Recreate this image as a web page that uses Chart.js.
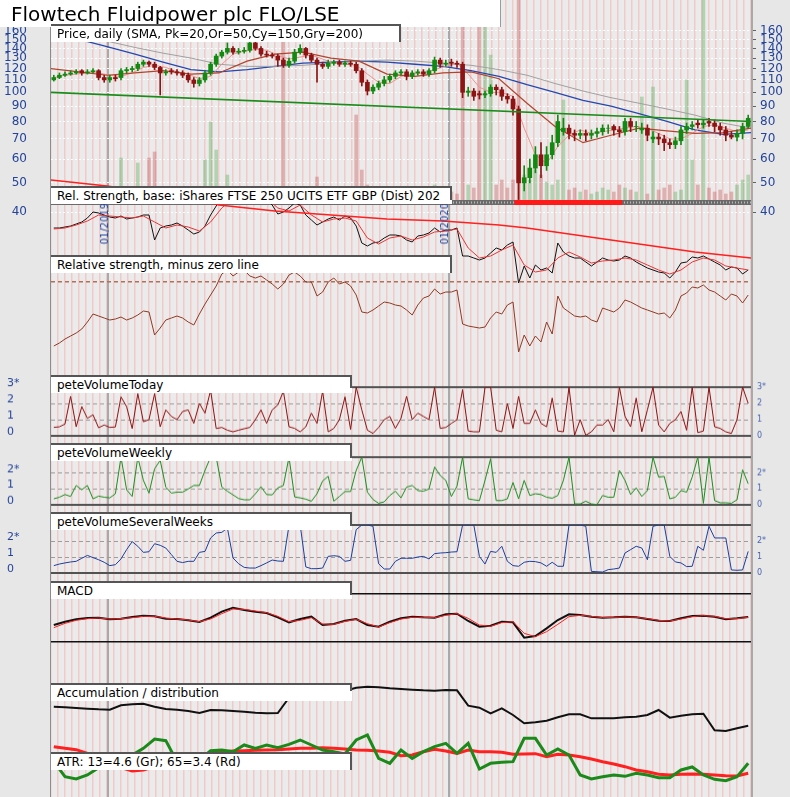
<!DOCTYPE html>
<html>
<head>
<meta charset="utf-8">
<title>Flowtech Fluidpower plc FLO/LSE</title>
<script src="https://cdn.jsdelivr.net/npm/chart.js@4.4.1/dist/chart.umd.min.js"></script>
<style>
html, body { margin: 0; padding: 0; }
body { position: relative; width: 790px; height: 797px; overflow: hidden; background: #e7e7e7; font-family: "DejaVu Sans", Verdana, sans-serif; }
canvas { position: absolute; left: 0; }
.title { position: absolute; left: 0; top: 0; width: 500px; height: 27px; background: #fff; border-right: 1px solid #9a9a9a; }
.title span { position: absolute; left: 11px; top: 4px; font-size: 20px; line-height: 20px; color: #000; white-space: nowrap; }
.box { position: absolute; left: 51px; height: 18px; background: #fff; border-top: 2px solid #555; font-size: 12px; line-height: 16px; padding-left: 6px; box-sizing: border-box; white-space: nowrap; overflow: hidden; color: #000; }
.box i { position: absolute; right: 0; top: 0; width: 2px; background: #555; }
.edge { position: absolute; bottom: 0; }
.year { position: absolute; top: 203px; font-size: 10px; line-height: 12px; color: #23449a; writing-mode: vertical-rl; transform: rotate(180deg); }
</style>
</head>
<body>
<div id="charts"></div>
<div class="edge" style="left:50px;top:24px;width:1px;background:#8c8c8c"></div>
<div class="edge" style="left:751px;top:0;width:2px;background:#a9a9a9"></div>
<div class="year" style="left:99px">01/2019</div>
<div class="year" style="left:439px">01/2020</div>
<div class="title"><span>Flowtech Fluidpower plc FLO/LSE</span></div>
<div class="box" style="top:24px;width:350px">Price, daily (SMA, Pk=20,Or=50,Cy=150,Gry=200)<i style="height:17px"></i></div>
<div class="box" style="top:186px;width:401px">Rel. Strength, base: iShares FTSE 250 UCITS ETF GBP (Dist) 202<i style="height:12px"></i></div>
<div class="box" style="top:255px;width:401px">Relative strength, minus zero line<i style="height:16px"></i></div>
<div class="box" style="top:375px;width:301px">peteVolumeToday<i style="height:11px"></i></div>
<div class="box" style="top:443px;width:301px">peteVolumeWeekly<i style="height:13px"></i></div>
<div class="box" style="top:512px;width:301px">peteVolumeSeveralWeeks<i style="height:12px"></i></div>
<div class="box" style="top:581px;width:301px">MACD<i style="height:12px"></i></div>
<div class="box" style="top:683px;width:301px">Accumulation / distribution<i style="height:6px"></i></div>
<div class="box" style="top:752px;width:301px">ATR: 13=4.6 (Gr); 65=3.4 (Rd)<i style="height:16px"></i></div>

<script>
// ---- data (x axis = trading days, 0..500) ----
const days = 500;
const yearStarts = [41, 284];
const priceTicks = [160, 150, 140, 130, 120, 110, 100, 90, 80, 70, 60, 50, 40];

// candles, one every 4 trading days
const opens = [
  110,112,114,115,116,118,116,117,118,112, 110,112,112,118,119,120,124,126,124,121,
  116,118,117,116,114,110,107,110,116,124, 132,136,140,136,137,138,146,140,134,133,
  132,128,123,127,136,140,133,128,124,122, 125,126,124,125,124,118,108,101,104,107,
  110,113,116,117,113,116,117,115,118,128, 124,126,125,124,100,101,99,98,99,104,
  102,97,95,88,50,52,56,62,57,62, 68,74,76,73,72,73,72,73,74,76,
  77,75,74,80,77,75,76,70,71,70, 68,67,69,75,77,79,78,80,79,77,
  75,72,71,73,77];
const highs = [
  114,116,117,118,119,119,119,120,119,114, 114,114,120,121,122,126,128,127,126,122,
  119,120,119,118,116,112,112,118,126,134, 138,146,142,140,141,149,147,142,137,135,
  134,130,130,139,144,141,135,130,126,128, 128,128,127,127,126,120,110,106,109,113,
  115,118,119,119,118,119,119,120,131,130, 128,129,127,126,104,103,101,101,106,106,
  104,99,97,90,57,60,66,68,66,72, 84,82,78,75,75,75,75,76,78,78,
  78,77,82,82,80,79,78,74,73,72, 70,71,77,79,80,81,81,82,81,79,
  77,74,75,79,84];
const lows = [
  109,111,113,114,115,114,115,116,110,108, 108,109,110,116,117,118,122,122,119,98,
  114,115,114,112,108,104,105,108,114,122, 130,134,134,134,135,136,138,132,131,130,
  122,121,121,125,134,130,126,108,120,120, 123,122,122,122,116,105,98,99,102,105,
  108,111,114,110,111,114,113,113,116,121, 122,122,121,96,97,94,95,96,97,98,
  94,92,84,44,47,50,54,52,55,60, 66,72,70,69,70,69,70,71,72,73,
  72,71,72,74,74,73,69,68,67,64, 65,65,67,73,75,76,76,77,74,72,
  69,70,69,70,76];
const closes = [
  112,114,115,116,117,116,117,118,112,110, 112,111,118,119,120,124,126,124,121,116,
  117,117,116,114,110,107,110,116,124,132, 136,140,136,137,138,146,140,134,133,132,
  128,123,127,136,140,133,128,124,122,125, 126,124,125,124,118,108,101,104,107,110,
  113,116,117,113,116,117,115,118,128,124, 125,125,124,100,101,97,98,99,104,102,
  97,95,88,50,52,56,62,57,62,68, 80,76,73,72,73,72,73,74,76,76,
  75,74,80,77,77,76,72,71,70,68, 67,69,75,77,78,78,79,79,77,75,
  72,71,73,77,82];
const volumes = [
  5,4,6,3,4,5,3,4,6,5, 8,4,42,6,5,37,6,42,48,10,
  5,4,6,12,5,6,8,40,78,50, 8,25,10,5,4,6,5,3,4,6,
  5,200,5,4,6,5,6,23,8,5, 6,4,10,12,85,30,15,8,6,10,
  8,6,5,8,6,10,8,12,15,6, 10,8,6,200,15,12,200,200,145,15,
  20,12,20,200,25,20,30,25,18,15, 20,100,10,12,8,10,6,8,12,10,
  8,15,12,10,8,103,6,113,10,12, 15,8,10,120,40,15,200,12,8,10,
  6,8,15,20,25];

// moving averages (sma20 every 8 days, the others every 20 days)
const sma20 = [
  112,114,115,116,116,114,113,116,121,123, 121,117,115,111,113,124,134,137,139,138,
  133,129,131,133,129,125,124,123,115,108, 107,113,115,116,119,122,125,115,104,100,
  100,97,76,62,58,66,72,75,73,74, 75,76,77,76,73,70,70,73,77,78,
  76,74,75];
const sma50 = [120,117,114,116,118,115,116,127,134,136,130,127,115,113,116,117,111,92,77,68,72,76,74.5,73,73.5,76];
const sma150 = [159,150,142,134,126,119,117,119,122,125,126,127,126,124,122,118,113,106,100,94,90,85,80,75,72.5,73.5];
const sma200 = [163,157,148,141,135,130,124,122,122,123,125,127,128,127,125,123,119,114,107,101,96,92,88,84,79,76];
const trendDays = [0, 500];
const trendValues = [100, 80];
const redBandDays = [331, 408];

// relative strength vs FTSE 250 (index units)
const rs = [
  72,72,73,74,76,78,82,88,87,85, 83,82,84,81,82,83,85,85,60,72,
  74,75,77,74,70,66,68,74,85,94, 102,105,104,106,108,110,104,102,100,95,
  86,88,92,97,95,85,80,75,78,81, 83,80,84,82,74,57,54,57,58,62,
  65,65,64,60,58,64,65,67,72,68, 70,70,72,44,44,42,40,42,47,52,
  50,55,58,17,34,22,35,30,32,27, 57,48,44,42,42,38,34,38,42,40,
  39,40,44,42,38,35,32,30,28,27, 22,28,37,38,43,42,44,41,38,35,
  30,33,32,26,30];
const rsAvg = [
  71,72,75,79,85,84,83,82,84,78, 72,75,73,69,78,92,102,106,107,102,
  92,89,95,85,78,81,82,79,62,56, 62,64,60,63,68,69,71,52,42,44,
  50,55,35,28,30,42,48,43,37,39, 40,42,40,35,30,26,30,38,42,40,
  34,32,30];
const rsLong = [120,117,114,110,106,102,95,92,89,87,85,83,81,80,79,77,75,72,68,64,60,56,52,48,45,42];
const rsMinusZero = [
  -64,-61,-57,-54,-51,-47,-40,-32,-34,-36, -38,-37,-35,-38,-36,-33,-29,-30,-53,-46,
  -38,-36,-34,-36,-40,-43,-32,-22,-13,-4, 8,12,6,10,12,6,4,6,2,-2,
  -7,-2,7,10,6,0,0,-14,-10,0, 4,-2,0,-4,-13,-30,-31,-28,-24,-20,
  -21,-23,-24,-28,-33,-23,-16,-14,-7,-12, -10,-10,-8,-42,-44,-45,-46,-45,-36,-30,
  -32,-23,-20,-70,-53,-64,-54,-60,-40,-52, -14,-26,-30,-34,-35,-34,-38,-40,-26,-28,
  -30,-26,-18,-20,-23,-26,-28,-30,-32,-31, -36,-28,-14,-11,-5,-6,-3,-8,-10,-14,
  -18,-12,-14,-21,-13];

// pete volume indicators (clipped at 3)
const peteToday = [
  0.52,0.56,0.73,2.44,0.56,1.8,1.08,1.3,0.5,0.67, 0.52,0.55,2.4,1.8,0.45,2.6,0.87,1.0,2.6,0.56,
  1.6,1.2,1.0,1.5,1.6,0.77,2.0,1.4,2.8,0.45, 0.52,0.35,0.25,0.35,0.44,0.52,1.0,1.6,0.77,1.6,
  1.9,2.75,0.56,0.46,0.25,0.56,1.4,0.77,2.75,0.25, 0.46,1.0,2.4,0.4,3.0,1.6,0.35,0.15,0.52,1.0,
  1.2,0.46,1.08,2.44,1.0,1.4,1.2,1.0,3.0,0.46, 0.52,0.77,1.0,2.85,0.3,0.25,0.25,3.0,3.0,0.35,
  0.25,2.0,0.46,2.44,0.77,0.77,1.6,0.77,0.56,2.33, 0.3,0.25,3.0,0.04,1.0,0.04,0.25,0.67,0.67,1.0,
  0.25,3.0,1.2,0.56,2.33,0.25,1.6,3.0,0.67,0.25, 0.77,1.0,1.5,0.35,3.0,0.2,0.3,3.0,0.56,0.46,
  0.25,0.15,1.0,3.0,2.0];
const peteWeekly = [
  0.38,0.48,0.65,0.53,1.22,0.95,1.22,0.38,0.55,0.48, 0.44,0.7,3.0,0.95,0.53,3.0,1.54,0.74,2.27,2.8,
  1.12,0.74,0.8,0.8,1.0,1.22,1.22,2.17,3.0,3.0, 1.12,0.86,0.63,0.4,0.32,0.32,0.7,1.14,0.65,0.63,
  1.07,1.22,3.0,0.5,0.44,0.36,0.23,0.7,1.5,1.8, 0.23,0.53,0.84,0.84,2.17,3.0,0.8,0.34,0.1,0.19,
  0.59,0.86,0.44,1.12,1.22,0.9,0.86,1.0,2.38,1.85, 1.54,0.53,1.18,3.0,0.38,0.32,0.27,1.54,2.9,0.27,
  0.27,0.38,1.41,0.38,1.54,0.59,0.7,0.65,0.48,0.42, 0.59,1.54,3.0,0.06,0.06,0.23,0.06,0.02,0.59,0.48,
  0.48,2.17,1.54,0.65,1.07,0.53,0.9,3.0,1.75,1.79, 0.38,0.48,0.9,0.8,1.75,3.0,0.1,3.0,0.27,0.13,
  0.13,0.1,0.32,2.2,1.33];
const peteSeveral = [
  0.46,0.56,0.63,0.69,0.73,0.92,1.1,0.96,0.83,0.67, 0.46,0.52,0.88,1.46,1.96,1.67,1.29,1.33,1.83,1.73,
  1.56,1.15,0.73,0.65,0.73,0.73,1.29,1.35,2.19,2.5, 2.54,2.81,0.94,0.58,0.35,0.31,0.31,0.46,0.63,0.81,
  0.75,0.73,2.98,3.0,3.0,0.38,0.27,0.27,0.31,1.04, 1.08,1.04,0.73,0.79,2.71,3.0,3.0,2.92,0.58,0.25,
  0.25,0.73,0.92,0.92,0.92,1.0,1.04,0.88,1.21,1.25, 1.27,1.31,1.33,3.0,3.0,3.0,1.04,0.56,1.35,1.29,
  1.67,0.73,0.46,0.42,0.67,0.73,0.71,0.63,0.42,0.67, 0.42,0.42,3.0,3.0,3.0,2.92,0.1,0.08,0.06,0.21,
  0.25,0.31,1.25,1.46,1.67,1.56,0.83,2.92,3.0,3.0, 1.04,0.69,0.63,0.4,0.42,1.67,1.42,2.92,2.19,2.19,
  2.19,0.19,0.17,0.19,1.35];
const todayTickLabels = ['0', '1', '2', '3*'];
const weeklyTickLabels = ['0', '1', '2*', ''];
const severalTickLabels = ['0', '1', '2*', ''];

// MACD, A/D and ATR, one value every 8 trading days
const macd = [
  -2.0,-1.0,-0.3,0.1,0.2,-0.3,-0.1,0.4,0.8,0.6, -0.1,-0.2,-0.6,-1.1,0.2,2.0,3.2,2.5,2.0,1.6,
  0.3,-1.2,-0.2,0.5,-2.0,-1.7,-0.7,-0.2,-2.0,-2.5, -1.0,0,0.5,0.3,0.2,1.2,1.4,-0.8,-2.5,-2.2,
  -1.0,-1.2,-5.8,-5.3,-3.0,-0.5,1.2,1.0,0.5,0.2, 0.3,0.5,0.3,-0.2,-0.7,-0.8,0,0.7,0.8,0.5,
  -0.3,0,0.4];
const macdSignal = [
  -2.8,-1.5,-0.6,-0.1,0.1,-0.2,-0.1,0.2,0.6,0.6, 0.1,-0.2,-0.5,-1.0,-0.2,1.4,2.8,2.7,2.2,1.7,
  0.6,-1.0,-0.6,0.2,-1.7,-1.8,-0.9,-0.3,-1.6,-2.6, -1.3,-0.2,0.3,0.3,0.2,0.9,1.4,0,-2.0,-2.4,
  -1.3,-1.0,-4.5,-5.5,-4.0,-1.8,0.5,0.9,0.6,0.2, 0.3,0.4,0.3,-0.1,-0.6,-0.8,-0.2,0.5,0.8,0.6,
  -0.1,-0.1,0.3];
const accDist = [
  5.5,5.3,5.1,4.9,4.7,4.6,5.9,6.2,6.4,5.5, 4.8,4.6,4.2,3.6,4.5,4.4,4.2,4.0,3.7,3.5,
  3.6,8.2,8.3,8.7,9.5,10.0,10.3,11.2,11.5,11.3, 11.0,10.8,10.6,10.4,10.3,10.5,10.4,5.8,5.2,3.5,
  5.0,3.0,0.5,0.8,1.3,2.3,3.2,3.2,2.0,2.0, 2.0,2.3,2.5,3.0,4.5,2.2,2.8,3.2,3.4,-1.6,
  -1.8,-1.0,-0.2];
const atr13 = [
  4.8,3.0,2.72,3.2,4.08,4.8,5.4,5.6,6.4,7.52, 7.32,4.8,4.0,5.0,6.12,6.2,6.0,6.8,6.4,6.8,
  6.48,6.88,7.4,6.8,6.2,6.0,5.72,7.4,8.0,5.2, 4.6,6.2,5.2,6.0,6.6,7.0,5.8,7.0,3.92,4.6,
  4.72,4.8,7.6,7.6,5.6,6.32,5.6,3.2,2.72,3.0, 3.2,3.04,3.4,3.2,2.88,2.88,3.8,4.16,3.2,2.68,
  2.52,3.0,4.6];
const atr65 = [
  6.6,6.4,6.24,5.8,5.2,4.6,4.08,3.68,3.8,4.2, 4.6,5.0,5.4,5.6,5.8,6.0,6.08,6.12,6.16,6.2,
  6.24,6.32,6.4,6.4,6.48,6.4,6.32,6.2,6.16,6.08, 5.92,5.52,5.6,6.0,6.28,6.08,5.8,6.2,6.0,6.0,
  5.92,5.68,5.72,5.76,5.4,5.68,5.6,5.4,5.12,4.8, 4.52,4.2,3.8,3.6,3.28,3.2,3.28,3.32,3.28,3.2,
  3.12,3.08,3.4];

// ---- helpers ----
const BLUE = '#23449a';
const FONT = '"DejaVu Sans", Verdana, sans-serif';
Chart.defaults.font.family = FONT;
const X_AXIS = { type: 'linear', min: 0, max: days, display: false, offset: false };
const QUIET = { legend: { display: false }, tooltip: { enabled: false } };

function canvasAt(top, height) {
    const c = document.createElement('canvas');
    c.width = 790; c.height = height;
    c.style.top = top + 'px';
    c.style.width = '790px'; c.style.height = height + 'px';
    document.getElementById('charts').appendChild(c);
    return c;
}
function series(values, first, step) {
    return values.map(function(v, i) { return { x: first + i * step, y: v }; });
}
function line(values, first, step, color, width, extra) {
    return Object.assign({ type: 'line', data: series(values, first, step), borderColor: color,
        borderWidth: width, pointRadius: 0, fill: false, tension: 0 }, extra || {});
}
function fixedTicks(list) {
    return function(s) { s.ticks = list.map(function(v) { return { value: v }; }); };
}
// fixed axis width, and no extra vertical room reserved for the end labels
function fitTo(width) {
    return function(s) { s.width = width; s.paddingTop = 0; s.paddingBottom = 0; };
}
function baseOptions(scales, padding) {
    return { responsive: false, animation: false, events: [], devicePixelRatio: 1,
        layout: { padding: padding }, plugins: QUIET, scales: scales };
}

// ---- background: plot area, weekly stripes, year lines ----
const stripeTicks = [];
for (let d = 0; d <= days; d += 5) stripeTicks.push({ value: d });
yearStarts.forEach(function(d) { stripeTicks.push({ value: d, year: true }); });

const plotBg = {
    id: 'plotBg',
    beforeDraw: function(chart) {
        const a = chart.chartArea, ctx = chart.ctx;
        ctx.save(); ctx.fillStyle = '#ebebeb';
        ctx.fillRect(a.left, a.top, a.right - a.left, a.bottom - a.top);
        ctx.restore();
    }
};
new Chart(canvasAt(0, 797), {
    type: 'line',
    data: { datasets: [] },
    options: baseOptions({
        x: { type: 'linear', min: 0, max: days, offset: false,
             afterBuildTicks: function(s) { s.ticks = stripeTicks; },
             ticks: { display: false }, border: { display: false },
             grid: { drawTicks: false,
                     color: function(c) { return c.tick && c.tick.year ? '#a9a9a9' : 'rgba(255,130,130,0.32)'; },
                     lineWidth: function(c) { return c.tick && c.tick.year ? 2 : 1.5; } } },
        y: { display: false, min: 0, max: 1 }
    }, { left: 51, right: 39, top: 0, bottom: 0 }),
    plugins: [plotBg]
});

// ---- price panel ----
const isUp = closes.map(function(c, i) { return c >= opens[i]; });
const BAND = -2.5;
new Chart(canvasAt(0, 226), {
    type: 'bar',
    data: { datasets: [
        { label: 'volume', yAxisID: 'vol', order: 9, barThickness: 3, grouped: false,
          data: series(volumes, 2, 4),
          backgroundColor: isUp.map(function(u) { return u ? 'rgba(90,175,90,0.4)' : 'rgba(200,90,90,0.4)'; }) },
        line([BAND, BAND], 0, days, '#6a6a6a', 5, { yAxisID: 'vol', order: 8 }),
        line([BAND, BAND], 0, days, '#b8b8b8', 2, { yAxisID: 'vol', order: 7, borderDash: [1, 2] }),
        { type: 'line', yAxisID: 'vol', order: 6, data: redBandDays.map(function(d) { return { x: d, y: BAND }; }),
          borderColor: '#ff1a1a', borderWidth: 5, pointRadius: 0 },
        line(sma200, 0, 20, '#a0a0a0', 1, { yAxisID: 'y', order: 5 }),
        line(sma150, 0, 20, '#2448b0', 1.3, { yAxisID: 'y', order: 5 }),
        line(sma50, 0, 20, '#b2442e', 1.2, { yAxisID: 'y', order: 4 }),
        line(sma20, 2, 8, '#f09090', 1, { yAxisID: 'y', order: 4 }),
        { label: 'wick', yAxisID: 'y', order: 2, barThickness: 1, grouped: false,
          data: highs.map(function(h, i) { return { x: 2 + 4 * i, y: [lows[i], h] }; }),
          backgroundColor: isUp.map(function(u) { return u ? '#128a12' : '#8e1414'; }) },
        { label: 'body', yAxisID: 'y', order: 1, barThickness: 4, grouped: false,
          data: closes.map(function(c, i) { return { x: 2 + 4 * i, y: [opens[i], c] }; }),
          backgroundColor: isUp.map(function(u) { return u ? '#128a12' : '#8e1414'; }) },
        { type: 'line', yAxisID: 'y', order: 0, data: trendDays.map(function(d, i) { return { x: d, y: trendValues[i] }; }),
          borderColor: '#1b8c1b', borderWidth: 1.6, pointRadius: 0 }
    ] },
    options: baseOptions({
        x: X_AXIS,
        y: { type: 'logarithmic', position: 'left', min: 40, max: 202.8,
             afterBuildTicks: fixedTicks(priceTicks), afterFit: fitTo(51),
             ticks: { autoSkip: false, padding: 24, color: BLUE, font: { size: 12 }, callback: function(v) { return String(v); } },
             grid: { display: false, drawTicks: false }, border: { display: false } },
        yr: { type: 'logarithmic', position: 'right', min: 40, max: 202.8,
              afterBuildTicks: fixedTicks(priceTicks), afterFit: fitTo(39),
              ticks: { autoSkip: false, padding: 4, color: BLUE, font: { size: 12 }, callback: function(v) { return String(v); } },
              grid: { color: 'rgba(255,255,255,0.95)', lineWidth: 1, tickLength: 5, tickColor: '#606060' },
              border: { display: false, dash: [2, 2] } },
        vol: { display: false, min: -12, max: 200 }
    }, { left: 0, right: 0, top: 0, bottom: 14 })
});

// ---- relative strength ----
new Chart(canvasAt(170, 130), {
    type: 'line',
    data: { datasets: [
        line(rsLong, 0, 20, '#ff2020', 1.6),
        line(rsAvg, 2, 8, '#e83535', 1),
        line(rs, 2, 4, '#111111', 1)
    ] },
    options: baseOptions({ x: X_AXIS, y: { display: false, min: 0, max: 130 } },
        { left: 51, right: 39, top: 0, bottom: 0 })
});
new Chart(canvasAt(250, 130), {
    type: 'line',
    data: { datasets: [ line(rsMinusZero, 2, 4, '#8e3a24', 1) ] },
    options: baseOptions({
        x: X_AXIS,
        y: { min: -98, max: 32, afterBuildTicks: fixedTicks([0]), afterFit: fitTo(0),
             ticks: { display: false }, grid: { color: '#b0705a', lineWidth: 1.5, drawTicks: false },
             border: { display: false, dash: [4, 3] } }
    }, { left: 51, right: 39, top: 0, bottom: 0 })
});

// ---- pete volume panels ----
function petePanel(y3, y0, values, color, labels) {
    const pad = 10;
    new Chart(canvasAt(y3 - pad, y0 - y3 + 2 * pad), {
        type: 'line',
        data: { datasets: [ line(values, 2, 4, color, 1) ] },
        options: baseOptions({
            x: X_AXIS,
            y: { position: 'left', min: 0, max: 3, afterBuildTicks: fixedTicks([0, 1, 2, 3]), afterFit: fitTo(44),
                 ticks: { autoSkip: false, crossAlign: 'far', labelOffset: -4, color: BLUE, font: { size: 11 },
                          callback: function(v) { return labels[v]; } },
                 grid: { drawTicks: false, lineWidth: 1,
                         color: function(c) { return c.tick && (c.tick.value === 1 || c.tick.value === 2) ? '#9c9c9c' : 'rgba(0,0,0,0)'; } },
                 border: { display: false, dash: [4, 3] } },
            yr: { position: 'right', min: 0, max: 3, afterBuildTicks: fixedTicks([0, 1, 2, 3]), afterFit: fitTo(39),
                  ticks: { autoSkip: false, padding: 6, color: '#4a64b0', font: { size: 8 },
                           callback: function(v) { return labels[v]; } },
                  grid: { drawTicks: false, lineWidth: 2,
                          color: function(c) { return c.tick && (c.tick.value === 0 || c.tick.value === 3) ? '#525252' : 'rgba(0,0,0,0)'; } },
                  border: { display: false } }
        }, { left: 7, right: 0, top: pad, bottom: pad })
    });
}
petePanel(387, 435.5, peteToday, '#8e1010', todayTickLabels);
petePanel(457, 504.5, peteWeekly, '#1c8c1c', weeklyTickLabels);
petePanel(525, 573, peteSeveral, '#1d3f9c', severalTickLabels);

// ---- MACD ----
new Chart(canvasAt(590, 60), {
    type: 'line',
    data: { datasets: [
        line(macdSignal, 2, 8, '#ff2020', 1),
        line(macd, 2, 8, '#111111', 2)
    ] },
    options: baseOptions({
        x: X_AXIS,
        y: { min: -7.1, max: 7.3, afterBuildTicks: fixedTicks([-7.1, 7.3]), afterFit: fitTo(0),
             ticks: { display: false }, grid: { color: '#111111', lineWidth: 1.5, drawTicks: false },
             border: { display: false } }
    }, { left: 51, right: 39, top: 4, bottom: 8 })
});

// ---- accumulation / distribution ----
new Chart(canvasAt(680, 80), {
    type: 'line',
    data: { datasets: [ line(accDist, 2, 8, '#111111', 2) ] },
    options: baseOptions({ x: X_AXIS, y: { display: false, min: -10.5, max: 13.5 } },
        { left: 51, right: 39, top: 0, bottom: 0 })
});

// ---- ATR ----
new Chart(canvasAt(725, 72), {
    type: 'line',
    data: { datasets: [
        line(atr13, 2, 8, '#1b8a1b', 3),
        line(atr65, 2, 8, '#ff2020', 3)
    ] },
    options: baseOptions({ x: X_AXIS, y: { display: false, min: 0.56, max: 9.2 } },
        { left: 51, right: 39, top: 0, bottom: 0 })
});
</script>
</body>
</html>
